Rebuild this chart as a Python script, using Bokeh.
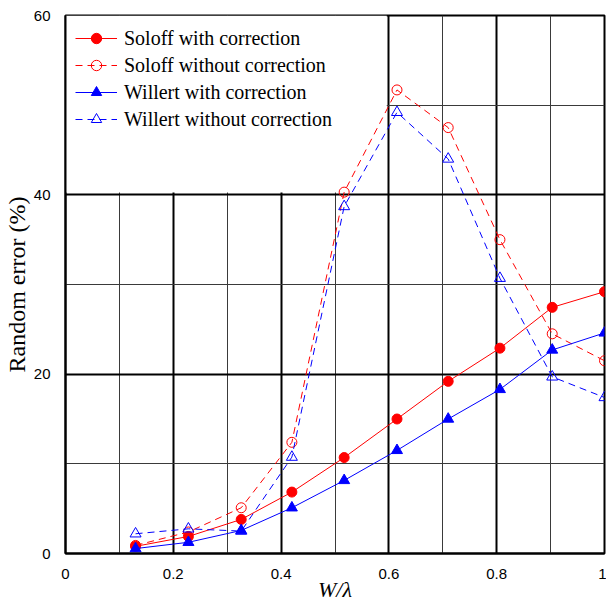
from bokeh.plotting import figure
from bokeh.models import FixedTicker, BoxAnnotation, Legend, LegendItem, Range1d
from bokeh.embed import file_html
from bokeh.resources import INLINE

# ---- data ----
w_lambda = [0.13, 0.228, 0.326, 0.42, 0.517, 0.615, 0.71, 0.806, 0.903, 1.0]
soloff_with = [0.8, 1.9, 3.8, 6.85, 10.7, 15.0, 19.2, 22.9, 27.45, 29.2]
soloff_without = [0.9, 2.4, 5.1, 12.4, 40.3, 51.7, 47.5, 35.0, 24.5, 21.5]
willert_with = [0.55, 1.25, 2.57, 5.1, 8.15, 11.5, 15.0, 18.3, 22.7, 24.6]
willert_without = [2.2, 2.75, 2.5, 10.75, 38.7, 49.2, 44.0, 30.7, 19.7, 17.4]

x_ticks = [0, 0.2, 0.4, 0.6, 0.8, 1.0]
x_tick_labels = ["0", "0.2", "0.4", "0.6", "0.8", "1"]
x_minor = [0.1, 0.3, 0.5, 0.7, 0.9]
y_ticks = [0, 20, 40, 60]
y_tick_labels = ["0", "20", "40", "60"]
y_minor = [10, 30, 50]

SERIF = "Liberation Serif"
SANS = "Liberation Sans"

p = figure(width=606, height=604, output_backend="svg", toolbar_location=None,
           x_range=Range1d(0, 1), y_range=Range1d(0, 60),
           min_border_left=64, min_border_right=2, min_border_top=15,
           min_border_bottom=51)
p.background_fill_color = "white"
p.border_fill_color = "white"
p.outline_line_color = "black"
p.outline_line_width = 2

# axes
p.xaxis.ticker = FixedTicker(ticks=x_ticks, minor_ticks=x_minor)
p.yaxis.ticker = FixedTicker(ticks=y_ticks, minor_ticks=y_minor)
p.xaxis.major_label_overrides = {t: l for t, l in zip(x_ticks, x_tick_labels)}
p.yaxis.major_label_overrides = {t: l for t, l in zip(y_ticks, y_tick_labels)}
for ax in (p.xaxis, p.yaxis):
    ax.major_tick_line_color = None
    ax.minor_tick_line_color = None
    ax.axis_line_color = "black"
    ax.axis_line_width = 2
    ax.major_label_text_font = SANS
    ax.major_label_text_font_size = "15px"
    ax.major_label_text_color = "black"
    ax.axis_label_text_font = SERIF
    ax.axis_label_text_color = "black"
p.xaxis.axis_label = "W/λ"
p.xaxis.axis_label_text_font_style = "italic"
p.xaxis.axis_label_text_font_size = "22px"
p.xaxis.major_label_standoff = 9
p.xaxis.axis_label_standoff = -5
p.yaxis.axis_label = "Random error (%)"
p.yaxis.axis_label_text_font_style = "normal"
p.yaxis.axis_label_text_font_size = "24px"
p.yaxis.major_label_standoff = 9
p.yaxis.axis_label_standoff = 1

# grids
p.xgrid.ticker = FixedTicker(ticks=x_ticks, minor_ticks=x_minor)
p.ygrid.ticker = FixedTicker(ticks=y_ticks, minor_ticks=y_minor)
for g in (p.xgrid, p.ygrid):
    g.grid_line_color = "black"
    g.grid_line_width = 2
    g.grid_line_alpha = 1
    g.minor_grid_line_color = "#3a3a3a"
    g.minor_grid_line_width = 1

# white background behind the legend area (covers grid there, below data)
mask = BoxAnnotation(left=0, right=0.596, bottom=40.25, top=60,
                     fill_color="white", fill_alpha=1, line_color=None,
                     level="glyph")
p.renderers.append(mask)

RED = "#ff0000"
BLUE = "#0000ff"
DASH = "7 5"

l1 = p.line(w_lambda, soloff_with, line_color=RED, line_width=1)
m1 = p.scatter(w_lambda, soloff_with, marker="circle", size=10,
               fill_color=RED, line_color=RED)
l2 = p.line(w_lambda, soloff_without, line_color=RED, line_width=1,
            line_dash=DASH)
m2 = p.scatter(w_lambda, soloff_without, marker="circle", size=10,
               fill_color=None, line_color=RED, line_width=1)
l3 = p.line(w_lambda, willert_with, line_color=BLUE, line_width=1)
m3 = p.scatter(w_lambda, willert_with, marker="triangle", size=11,
               fill_color=BLUE, line_color=BLUE)
l4 = p.line(w_lambda, willert_without, line_color=BLUE, line_width=1,
            line_dash=DASH)
m4 = p.scatter(w_lambda, willert_without, marker="triangle", size=11,
               fill_color=None, line_color=BLUE, line_width=1)

legend = Legend(items=[
    LegendItem(label="Soloff with correction", renderers=[l1, m1]),
    LegendItem(label="Soloff without correction", renderers=[l2, m2]),
    LegendItem(label="Willert with correction", renderers=[l3, m3]),
    LegendItem(label="Willert without correction", renderers=[l4, m4]),
], location="top_left")
legend.margin = 10
legend.padding = 10
legend.spacing = 1
legend.glyph_width = 42
legend.glyph_height = 26
legend.label_height = 26
legend.label_standoff = 7
legend.label_text_font = SERIF
legend.label_text_font_size = "20px"
legend.label_text_color = "black"
legend.background_fill_alpha = 0
legend.border_line_color = None
p.add_layout(legend, "center")

open("out.html", "w").write(file_html(p, INLINE))
